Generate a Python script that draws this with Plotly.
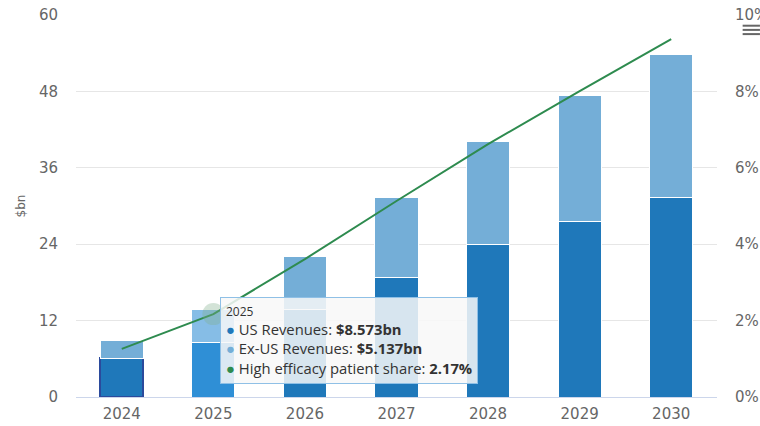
import plotly.graph_objects as go

years = ["2024", "2025", "2026", "2027", "2028", "2029", "2030"]
us_revenues = [6.1, 8.573, 13.8, 18.8, 23.9, 27.6, 31.4]
exus_revenues = [2.7, 5.137, 8.2, 12.6, 16.3, 19.7, 22.4]
patient_share = [1.26, 2.17, 3.61, 5.13, 6.62, 8.01, 9.37]
left_ticks = [0, 12, 24, 36, 48, 60]
right_ticks = [0, 2, 4, 6, 8, 10]
right_tick_text = ["0%", "2%", "4%", "6%", "8%", "10%"]

US_C = "#1f78ba"
US_HOVER = "#2f8fd6"
EX_C = "#74aed7"
EX_HOVER = "#86bde6"
GREEN = "#2e8b4f"
FONT = "Open Sans"
TICKFONT = "DejaVu Sans"

hover_idx = 1
us_colors = [US_HOVER if i == hover_idx else US_C for i in range(len(years))]
ex_colors = [EX_HOVER if i == hover_idx else EX_C for i in range(len(years))]
us_line_colors = ["#2b4a9c" if i == 0 else "white" for i in range(len(years))]
us_line_widths = [2 if i == 0 else 1 for i in range(len(years))]
halo_sizes = [22 if i == hover_idx else 0 for i in range(len(years))]

fig = go.Figure()
fig.add_trace(go.Bar(x=years, y=us_revenues, name="US Revenues",
                     marker=dict(color=us_colors,
                                 line=dict(color=us_line_colors, width=us_line_widths))))
fig.add_trace(go.Bar(x=years, y=exus_revenues, name="Ex-US Revenues",
                     marker=dict(color=ex_colors, line=dict(color="white", width=1))))
fig.add_trace(go.Scatter(x=years, y=patient_share, name="High efficacy patient share",
                         yaxis="y2", mode="lines+markers",
                         line=dict(color=GREEN, width=2),
                         marker=dict(size=halo_sizes, color="rgba(130,175,140,0.5)",
                                     line=dict(width=0))))

tooltip = (
    "<span style='font-size:12px'>2025</span><br>"
    f"<span style='color:{US_C}'>●</span> US Revenues: <b>$8.573bn</b><br>"
    f"<span style='color:{EX_C}'>●</span> Ex-US Revenues: <b>$5.137bn</b><br>"
    f"<span style='color:{GREEN}'>●</span> High efficacy patient share: <b>2.17%</b>"
)

fig.update_layout(
    width=760, height=426,
    margin=dict(l=76, r=43, t=15, b=29),
    paper_bgcolor="white", plot_bgcolor="white",
    barmode="stack", bargap=0.53,
    showlegend=False,
    font=dict(family=FONT, color="#666666", size=15),
    xaxis=dict(type="category", showgrid=False, showline=True, automargin=False,
               linecolor="#ccd6eb", linewidth=1, ticks="", ticklabelstandoff=3,
               tickfont=dict(family=TICKFONT, size=15, color="#666666")),
    yaxis=dict(range=[0, 60], tickvals=left_ticks, showgrid=True, automargin=False,
               gridcolor="#e6e6e6", zeroline=False, showline=False,
               ticks="", ticklabelstandoff=17,
               title=dict(text="$bn", font=dict(family=TICKFONT, size=12, color="#666666"),
                          standoff=10),
               tickfont=dict(family=TICKFONT, size=15, color="#666666")),
    yaxis2=dict(range=[0, 10], tickvals=right_ticks, ticktext=right_tick_text,
                overlaying="y", side="right", showgrid=False, zeroline=False,
                automargin=False, ticks="", ticklabelstandoff=17,
                tickfont=dict(family=TICKFONT, size=15, color="#666666")),
    annotations=[dict(
        xref="paper", yref="paper", x=0.2246, y=0.262, xanchor="left", yanchor="top",
        text=tooltip, showarrow=False, align="left",
        font=dict(family=FONT, size=14.8, color="#333333"),
        bgcolor="rgba(248,248,248,0.85)", bordercolor="#8fc0e6", borderwidth=1,
        borderpad=5,
    )],
)

# hamburger menu icon (top-right)
for yy in [0.0, 1.0, 2.0]:
    fig.add_shape(type="line", xref="paper", yref="paper",
                  x0=1.04, x1=1.067, y0=0.972 - yy * 0.011, y1=0.972 - yy * 0.011,
                  line=dict(color="#666666", width=2))

fig.write_html("out.html")
